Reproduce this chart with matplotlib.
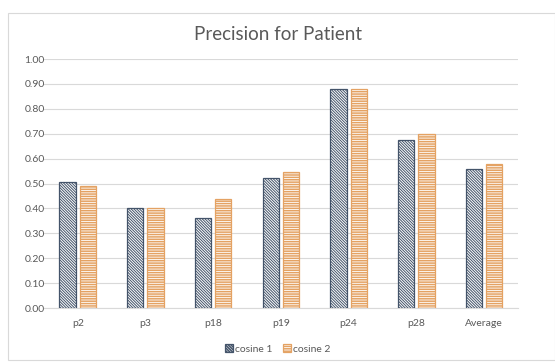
import matplotlib.pyplot as plt
import matplotlib.patches as mpatches
import numpy as np

categories = ['p2', 'p3', 'p18', 'p19', 'p24', 'p28', 'Average']
cosine_1 = [0.505, 0.40, 0.36, 0.523, 0.88, 0.675, 0.558]
cosine_2 = [0.489, 0.40, 0.439, 0.545, 0.88, 0.697, 0.577]
y_ticks = [0.0, 0.1, 0.2, 0.3, 0.4, 0.5, 0.6, 0.7, 0.8, 0.9, 1.0]

plt.rcParams['font.family'] = ['Lato', 'DejaVu Sans']

text_color = '#595959'
grid_color = '#d9d9d9'

fig = plt.figure(figsize=(5.55, 3.62), dpi=100)
ax = fig.add_axes([0.079, 0.149, 0.854, 0.688])

x = np.arange(len(categories))
w = 0.24
gap = 0.06

# hatch linewidth is read when the patch is created, so set it per series
plt.rcParams['hatch.linewidth'] = 0.7
ax.bar(x - (w + gap) / 2, cosine_1, w, facecolor='white',
       edgecolor='#44546A', hatch='\\' * 12, linewidth=0.9,
       label='cosine 1', zorder=3)
plt.rcParams['hatch.linewidth'] = 1.1
ax.bar(x + (w + gap) / 2, cosine_2, w, facecolor='white',
       edgecolor='#E4A263', hatch='-' * 7, linewidth=0.9,
       label='cosine 2', zorder=3)

ax.set_xlim(-0.5, len(categories) - 0.5)
ax.set_ylim(0, 1.0)
ax.set_yticks(y_ticks)
ax.set_yticklabels([f'{v:.2f}' for v in y_ticks])
ax.set_xticks(x)
ax.set_xticklabels(categories)
ax.tick_params(axis='both', length=0, labelsize=7.5, colors=text_color)
ax.tick_params(axis='x', pad=8)
ax.tick_params(axis='y', pad=14)
for lbl in ax.get_yticklabels():
    lbl.set_horizontalalignment('left')

ax.grid(axis='y', color=grid_color, linewidth=0.8, zorder=0)
for side in ['top', 'right', 'left']:
    ax.spines[side].set_visible(False)
ax.spines['bottom'].set_color(grid_color)

fig.text(0.5, 0.905, 'Precision for Patient', ha='center', va='center',
         fontsize=13.5, color=text_color)

leg = ax.legend(loc='center', bbox_to_anchor=(0.5, 0.036),
                bbox_transform=fig.transFigure, frameon=False, ncol=2,
                fontsize=7.5, labelcolor=text_color, handlelength=0.8,
                handleheight=0.8, handletextpad=0.2, columnspacing=1.0)

# chart border
fig.patches.append(mpatches.Rectangle((0.015, 0.005), 0.985, 0.96,
                                      transform=fig.transFigure,
                                      fill=False, edgecolor='#d9d9d9',
                                      linewidth=0.8))

plt.savefig('out.png', dpi=100)
plt.close()
